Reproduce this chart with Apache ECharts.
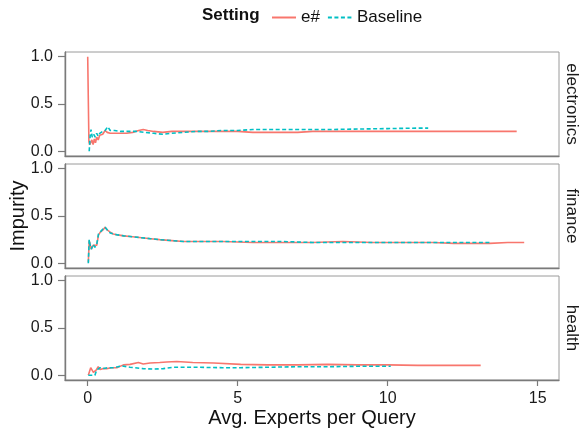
<!DOCTYPE html>
<html><head><meta charset="utf-8">
<script src="https://cdn.jsdelivr.net/npm/echarts@6/dist/echarts.min.js"></script>
<style>html,body{margin:0;padding:0;background:#fff}#c{width:582px;height:432px}</style>
</head><body><div id="c"></div>
<script>
const facets = ['electronics', 'finance', 'health'];
const seriesNames = ['e#', 'Baseline'];
const xTicks = [0, 5, 10, 15];
const yTicks = [0, 0.5, 1.0];

const elecEX = [0, 0.04, 0.07, 0.1, 0.14, 0.18, 0.22, 0.26, 0.3, 0.35, 0.4, 0.45, 0.5, 0.58, 0.65, 0.75, 0.9, 1.1, 1.3, 1.5, 1.7, 1.85, 2.0, 2.2, 2.5, 2.8, 3.2, 3.6, 4.0, 4.5, 5, 5.5, 6, 6.5, 7, 7.5, 8, 9, 10, 11, 12, 13, 14.3];
const elecEY = [1.0, 0.1, 0.07, 0.06, 0.12, 0.07, 0.13, 0.09, 0.15, 0.12, 0.17, 0.15, 0.18, 0.22, 0.2, 0.19, 0.19, 0.19, 0.19, 0.2, 0.22, 0.23, 0.22, 0.21, 0.2, 0.21, 0.21, 0.21, 0.21, 0.21, 0.21, 0.2, 0.2, 0.2, 0.2, 0.21, 0.21, 0.21, 0.21, 0.21, 0.21, 0.21, 0.21];
const elecBX = [0.05, 0.08, 0.11, 0.15, 0.2, 0.25, 0.3, 0.35, 0.4, 0.5, 0.58, 0.67, 0.75, 0.9, 1.1, 1.3, 1.6, 1.9, 2.2, 2.5, 2.8, 3.2, 3.6, 4, 4.5, 5, 5.5, 6, 7, 8, 9, 10, 11, 11.35];
const elecBY = [0.0, 0.16, 0.23, 0.15, 0.18, 0.15, 0.19, 0.16, 0.19, 0.21, 0.22, 0.26, 0.22, 0.22, 0.21, 0.21, 0.21, 0.2, 0.19, 0.18, 0.19, 0.2, 0.21, 0.21, 0.22, 0.22, 0.23, 0.23, 0.23, 0.23, 0.235, 0.24, 0.245, 0.245];

const finEX = [0.02, 0.05, 0.08, 0.12, 0.18, 0.24, 0.3, 0.36, 0.42, 0.5, 0.58, 0.66, 0.75, 0.85, 1.0, 1.2, 1.5, 1.8, 2.1, 2.4, 2.8, 3.2, 3.7, 4.5, 5.5, 6.5, 7.5, 8.5, 9.5, 10.5, 11.5, 12.2, 13.0, 13.4, 14.0, 14.55];
const finEY = [0.01, 0.24, 0.2, 0.15, 0.19, 0.17, 0.19, 0.3, 0.33, 0.35, 0.38, 0.35, 0.33, 0.31, 0.3, 0.29, 0.28, 0.27, 0.26, 0.25, 0.24, 0.23, 0.23, 0.23, 0.22, 0.22, 0.22, 0.23, 0.22, 0.22, 0.22, 0.21, 0.21, 0.21, 0.22, 0.22];
const finBX = [0.02, 0.05, 0.08, 0.12, 0.18, 0.24, 0.3, 0.36, 0.42, 0.5, 0.58, 0.66, 0.75, 0.85, 1.0, 1.2, 1.5, 1.8, 2.1, 2.4, 2.8, 3.2, 3.7, 4.5, 5.5, 6.5, 7.5, 8.5, 9.5, 10.5, 11.5, 12.2, 13.0, 13.4];
const finBY = [0.0, 0.25, 0.19, 0.15, 0.2, 0.17, 0.2, 0.31, 0.33, 0.36, 0.38, 0.35, 0.32, 0.31, 0.3, 0.29, 0.28, 0.27, 0.26, 0.25, 0.24, 0.23, 0.23, 0.23, 0.23, 0.23, 0.22, 0.22, 0.22, 0.22, 0.22, 0.22, 0.22, 0.22];

const hlthEX = [0.02, 0.1, 0.19, 0.28, 0.35, 0.41, 0.5, 0.63, 0.8, 0.97, 1.19, 1.41, 1.69, 1.85, 2.08, 2.4, 2.63, 2.97, 3.5, 4.2, 5.1, 6, 7, 8, 9, 10, 11, 12, 13.1];
const hlthEY = [0.0, 0.08, 0.03, 0.055, 0.09, 0.06, 0.07, 0.07, 0.08, 0.08, 0.11, 0.115, 0.135, 0.12, 0.13, 0.135, 0.14, 0.145, 0.135, 0.13, 0.115, 0.11, 0.11, 0.115, 0.11, 0.11, 0.105, 0.105, 0.105];
const hlthBX = [0.02, 0.24, 0.3, 0.41, 0.5, 0.58, 0.7, 0.85, 1.0, 1.13, 1.41, 1.85, 2.19, 2.52, 2.86, 3.6, 4.5, 5.1, 6, 7, 8, 9, 10.1];
const hlthBY = [0.0, 0.0, 0.055, 0.08, 0.07, 0.075, 0.08, 0.08, 0.09, 0.1, 0.085, 0.07, 0.065, 0.07, 0.085, 0.085, 0.08, 0.08, 0.085, 0.09, 0.09, 0.095, 0.095];

const panelData = [
  [[elecEX, elecEY], [elecBX, elecBY]],
  [[finEX, finEY], [finBX, finBY]],
  [[hlthEX, hlthEY], [hlthBX, hlthBY]]
];

const zip = (xs, ys) => xs.map((x, i) => [x, ys[i]]);
const RED = '#F8766D', CYAN = '#00BFC4';
const FONT = 'Liberation Sans, Arial, sans-serif';
const gridTops = [52, 164, 276];
const gridH = 104;
const AXC = '#7a7a7a';

const grids = [], xAxes = [], yAxes = [], series = [];
facets.forEach((f, i) => {
  grids.push({left: 65, top: gridTops[i], width: 494, height: gridH, show: true, borderColor: '#9a9a9a', borderWidth: 1,
    backgroundColor: '#fff', containLabel: false, outerBoundsMode: 'none'});
  const last = i === facets.length - 1;
  xAxes.push({
    type: 'value', gridIndex: i, min: -0.757, max: 15.71,
    axisLine: {show: true, onZero: false, lineStyle: {color: AXC, width: 1.4}},
    axisTick: {show: last, length: 6, lineStyle: {color: AXC, width: 1.2}, customValues: xTicks},
    axisLabel: {show: last, customValues: xTicks, color: '#1a1a1a', fontSize: 16, fontFamily: FONT, margin: 11},
    splitLine: {show: false},
    name: last ? 'Avg. Experts per Query' : '', nameLocation: 'middle', nameGap: 28, nameMoveOverlap: false,
    nameTextStyle: {fontSize: 20, color: '#111', fontFamily: FONT}
  });
  yAxes.push({
    type: 'value', gridIndex: i, min: -0.05, max: 1.05,
    axisLine: {show: true, onZero: false, lineStyle: {color: AXC, width: 1.4}},
    axisTick: {show: true, length: 7, lineStyle: {color: AXC, width: 1.2}, customValues: yTicks},
    axisLabel: {customValues: yTicks, color: '#1a1a1a', fontSize: 16, fontFamily: FONT, margin: 12, formatter: v => v.toFixed(1)},
    splitLine: {show: false},
    name: i === 1 ? 'Impurity' : '', nameLocation: 'middle', nameGap: 37, nameMoveOverlap: false,
    nameTextStyle: {fontSize: 20, color: '#111', fontFamily: FONT}
  });
  yAxes.push({
    type: 'value', gridIndex: i, position: 'right', min: 0, max: 1,
    axisLine: {show: false, onZero: false}, axisTick: {show: false}, axisLabel: {show: false}, splitLine: {show: false},
    name: f, nameLocation: 'middle', nameRotate: -90, nameGap: 4, nameMoveOverlap: false,
    nameTextStyle: {fontSize: 17, color: '#1a1a1a', fontFamily: FONT}
  });
  panelData[i].forEach((pair, j) => {
    series.push({
      name: seriesNames[j], type: 'line', xAxisIndex: i, yAxisIndex: i * 2,
      data: zip(pair[0], pair[1]), symbol: 'none', showSymbol: false, silent: true,
      lineStyle: {color: j === 0 ? RED : CYAN, width: 1.6, type: j === 0 ? 'solid' : [4, 2.5]},
      itemStyle: {color: j === 0 ? RED : CYAN},
      z: 2 + j
    });
  });
});

const chart = echarts.init(document.getElementById('c'), null, {renderer: 'canvas'});
chart.setOption({
  animation: false,
  backgroundColor: '#fff',
  title: {text: 'Setting', left: 197, top: 2, textStyle: {fontSize: 17, fontWeight: 'bold', color: '#111', fontFamily: FONT}},
  legend: {
    data: seriesNames, left: 266, top: 4, itemWidth: 24, itemHeight: 14, itemGap: 7,
    itemStyle: {opacity: 0},
    textStyle: {fontSize: 17, color: '#111', fontFamily: FONT}
  },
  grid: grids, xAxis: xAxes, yAxis: yAxes, series: series
});
</script></body></html>
